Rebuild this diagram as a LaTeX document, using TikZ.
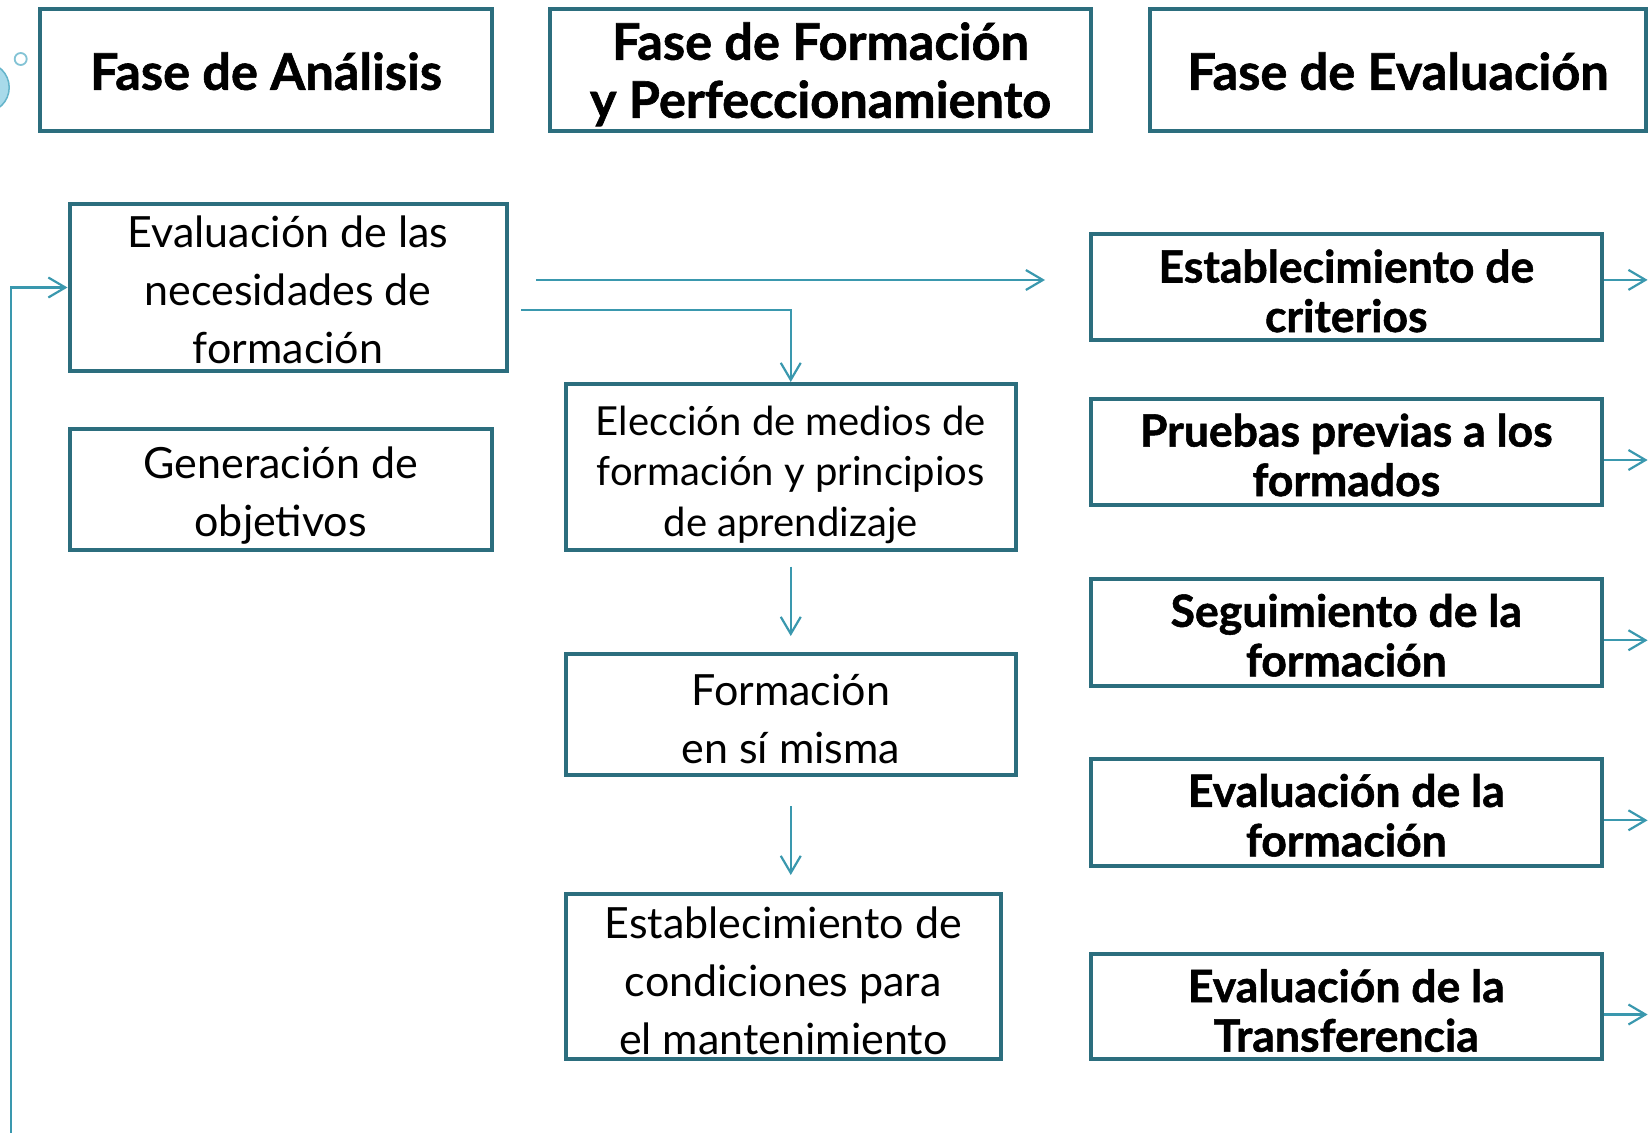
\documentclass[tikz,border=0pt]{standalone}
\usepackage{fontspec}
\setmainfont{Lato}[BoldFeatures={FakeBold=1.2}]
\usetikzlibrary{arrows.meta}
\definecolor{boxc}{RGB}{44,110,126}
\definecolor{arrc}{RGB}{58,152,174}
\definecolor{ballf}{RGB}{168,218,234}
\definecolor{balld}{RGB}{100,180,202}
\tikzset{
  box/.style={draw=boxc, line width=4pt, rectangle, inner sep=0pt},
  txt/.style={inner sep=0pt, align=center, text=black},
  hdr/.style={txt, font=\bfseries\fontsize{50.5}{58}\selectfont},
  reg/.style={txt, font=\fontsize{43}{58}\selectfont},
  small/.style={txt, font=\fontsize{40}{50.5}\selectfont},
  rtx/.style={txt, font=\bfseries\fontsize{44.5}{49.5}\selectfont},
  rbox/.style={box, minimum width=510.6pt},
  arr/.style={draw=arrc, line width=2.2pt, -{Straight Barb[length=17pt,width=20pt,line width=2.2pt]}}
}
\begin{document}
\begin{tikzpicture}[x=1pt,y=-1pt]
\useasboundingbox (0,0) rectangle (1651,1132);
% decorative circles
\fill[ballf] (-15.8,87.5) circle (25);
\draw[balld, line width=1.5pt] (-15.8,87.5) circle (25);
\draw[balld!80, line width=1.8pt] (20.7,59) circle (6);
% headers
\node[box, minimum width=452pt, minimum height=121.5pt] (b1) at (266,70.25) {};
\node[box, minimum width=541pt, minimum height=121.5pt] (b2) at (820.5,70.25) {};
\node[box, minimum width=496pt, minimum height=121.5pt] (b3) at (1398,70.25) {};
\node[hdr] (t1) at ([yshift=-1pt]b1.center) {Fase de Análisis};
\node[hdr] (t2) at ([yshift=-4pt]b2.center) {Fase de Formación\\y Perfeccionamiento};
\node[hdr] (t3) at ([yshift=-1pt]b3.center) {Fase de Evaluación};
% analysis column
\node[box, minimum width=437pt, minimum height=167pt] (b4) at (288,287.5) {};
\node[reg] (t4) at ([yshift=-2pt]b4.center) {Evaluación de las\\necesidades de\\formación};
\node[box, minimum width=422.5pt, minimum height=121pt] (b5) at (280.75,489) {};
\node[reg] (t5) at ([yshift=-7pt]b5.center) {Generación de\\objetivos};
% formation column
\node[box, minimum width=450.5pt, minimum height=165.6pt] (b6) at (790.75,466.8) {};
\node[small] (t6) at ([yshift=-8pt]b6.center) {Elección de medios de\\formación y principios\\de aprendizaje};
\node[box, minimum width=450.5pt, minimum height=121pt] (b7) at (790.75,714.5) {};
\node[reg] (t7) at ([yshift=-4pt]b7.center) {Formación\\en sí misma};
\node[box, minimum width=435.5pt, minimum height=165pt] (b8) at (783.25,976.5) {};
\node[reg] (t8) at ([yshift=-4pt]b8.center) {Establecimiento de\\condiciones para\\el mantenimiento};
% evaluation column
\node[rbox, minimum height=106.2pt] (b9) at (1346.3,286.9) {};
\node[rtx] (t9) at ([yshift=-4pt]b9.center) {Establecimiento de\\criterios};
\node[rbox, minimum height=106pt] (b10) at (1346.3,452) {};
\node[rtx] (t10) at ([yshift=-3pt]b10.center) {Pruebas previas a los\\formados};
\node[rbox, minimum height=106.5pt] (b11) at (1346.3,632.25) {};
\node[rtx] (t11) at ([yshift=-3pt]b11.center) {Seguimiento de la\\formación};
\node[rbox, minimum height=106.6pt] (b12) at (1346.3,812.3) {};
\node[rtx] (t12) at ([yshift=-3pt]b12.center) {Evaluación de la\\formación};
\node[rbox, minimum height=105pt] (b13) at (1346.3,1006.5) {};
\node[rtx] (t13) at ([yshift=-4pt]b13.center) {Evaluación de la\\Transferencia};
% free ends
\coordinate (t1s) at (536,280);
\coordinate (t1e) at (1045,280);
\coordinate (t2s) at (521,310);
\coordinate (fb) at (11,1140);
% connectors
\draw[arr] (t1s) -- (t1e);
\draw[arr] (t2s) -| (b6.north);
\draw[arr] ([yshift=-15pt]b6.south) -- ([yshift=16pt]b7.north);
\draw[arr] ([yshift=-29pt]b7.south) -- ([yshift=17pt]b7.south |- b8.north);
\draw[arr, line width=2.6pt] (fb) |- (b4.west);
\foreach \b/\dy in {b9/7, b10/-8, b11/-8, b12/-8, b13/-8}{
  \coordinate (\b e) at ([yshift=\dy pt]\b.east);
  \draw[arr] (\b e) -- ++(44,0);
}
\end{tikzpicture}
\end{document}
